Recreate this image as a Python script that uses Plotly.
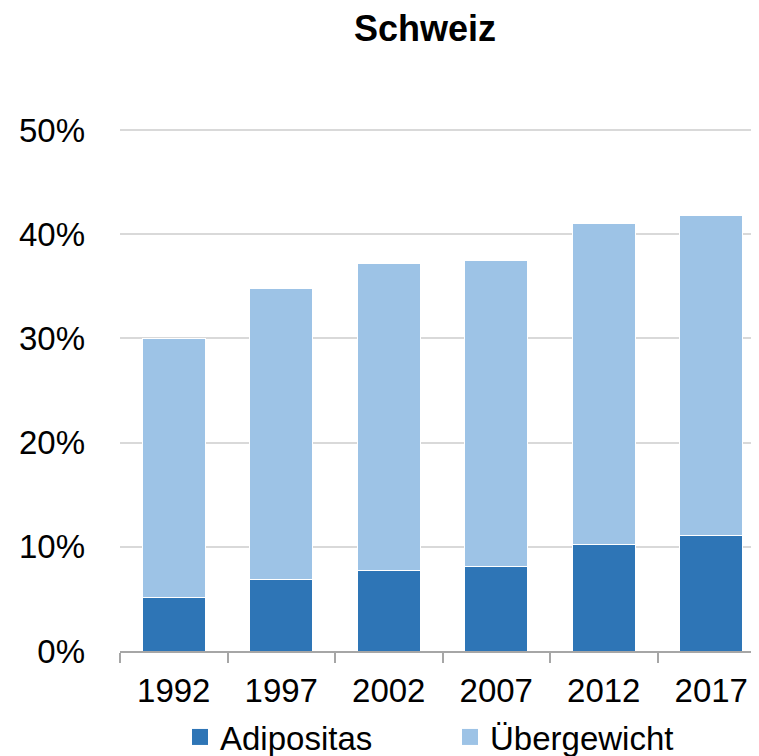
import plotly.graph_objects as go

years = ["1992", "1997", "2002", "2007", "2012", "2017"]
adipositas = [0.051, 0.069, 0.077, 0.081, 0.102, 0.111]
uebergewicht = [0.249, 0.279, 0.295, 0.294, 0.308, 0.307]
y_ticks = [0, 0.1, 0.2, 0.3, 0.4, 0.5]
series_names = ["Adipositas", "Übergewicht"]
series_colors = ["#2E75B6", "#9DC3E6"]

font = "Liberation Sans, Arial, sans-serif"

fig = go.Figure()
for vals, name, col in zip([adipositas, uebergewicht], series_names, series_colors):
    fig.add_trace(go.Bar(x=years, y=vals, name=name, showlegend=False,
                         marker=dict(color=col, line=dict(color="#FFFFFF", width=1))))
# legend entries with larger square swatches
for name, col in zip(series_names, series_colors):
    fig.add_trace(go.Scatter(x=[None], y=[None], mode="markers", name=name,
                             marker=dict(symbol="square", size=16, color=col)))

fig.update_layout(
    barmode="stack",
    bargap=0.41,
    width=759, height=756,
    paper_bgcolor="white", plot_bgcolor="white",
    margin=dict(l=112, r=2, t=121, b=113, autoexpand=False),
    font=dict(family=font, size=33, color="#000000"),
    title=dict(text="<b>Schweiz</b>", x=417/759, xanchor="center", xref="container",
               y=1 - 8/756, yanchor="top", yref="container",
               font=dict(family=font, size=36, color="#000000")),
    showlegend=True,
    legend=dict(orientation="h", x=172/759, xanchor="left", xref="container",
                y=1 - 729/756, yanchor="middle", yref="container",
                entrywidth=225, entrywidthmode="pixels", itemsizing="trace",
                font=dict(size=33), traceorder="normal",
                bgcolor="rgba(0,0,0,0)"),
    xaxis=dict(type="category", showline=True, linecolor="#A6A6A6", linewidth=1.5,
               ticks="outside", tickson="boundaries", ticklen=10, tickcolor="#A6A6A6",
               tickwidth=1.5, showgrid=False, tickfont=dict(size=33), automargin=False,
               ticklabelstandoff=10),
    yaxis=dict(range=[0, 0.501], tickvals=y_ticks, tickformat=".0%",
               showgrid=True, gridcolor="#D9D9D9", gridwidth=1.5,
               showline=False, zeroline=False, ticks="", ticklabelstandoff=34,
               tickfont=dict(size=33), automargin=False),
)

fig.write_html("out.html")
